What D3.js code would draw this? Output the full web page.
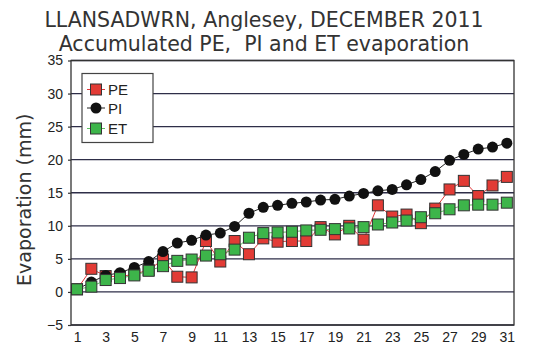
<!DOCTYPE html>
<html><head><meta charset="utf-8">
<script src="https://cdn.jsdelivr.net/npm/d3@7"></script>
<style>
html,body{margin:0;padding:0;background:#fff;}
svg{display:block;}
text.title{white-space:pre;}
</style></head>
<body>
<svg id="chart" width="536" height="356"></svg>
<script>
const titleLines = ["LLANSADWRN, Anglesey, DECEMBER 2011", "Accumulated PE,  PI and ET evaporation"];
const yLabel = "Evaporation (mm)";
const days = d3.range(1, 32);
const xTickLabels = [1,3,5,7,9,11,13,15,17,19,21,23,25,27,29,31];
const yTickValues = [-5,0,5,10,15,20,25,30,35];
const PE = [0.4,3.5,2.4,2.3,2.7,3.3,4.9,2.3,2.2,7.7,4.6,7.7,5.7,8.1,7.6,7.7,7.7,9.8,8.7,10.0,7.9,13.1,11.4,11.7,10.4,12.6,15.5,16.8,14.5,16.1,17.4];
const PI = [0.4,1.5,2.5,2.9,3.7,4.6,6.1,7.4,7.8,8.6,8.9,9.9,11.9,12.8,13.1,13.4,13.6,13.9,14.0,14.5,14.9,15.3,15.5,16.2,17.0,18.2,19.9,20.8,21.6,21.9,22.5];
const ET = [0.4,0.8,1.8,2.1,2.5,3.2,3.9,4.7,4.9,5.5,5.7,6.4,8.2,8.9,9.0,9.1,9.3,9.4,9.5,9.6,9.8,10.2,10.5,10.8,11.3,11.9,12.5,13.1,13.2,13.2,13.5];
const seriesNames = ["PE","PI","ET"];

const W = 536, H = 356;
const m = {left:71, right:22, top:60.5, bottom:31};
const svg = d3.select("#chart");

const x = d3.scaleLinear().domain([0.58, 31.5]).range([m.left, W - m.right]);
const y = d3.scaleLinear().domain([-5, 35]).range([H - m.bottom, m.top]);

// titles
svg.selectAll("text.title").data(titleLines).join("text")
  .attr("class","title")
  .attr("xml:space","preserve")
  .attr("x", 264).attr("y", (d,i) => 27 + i*24)
  .attr("text-anchor","middle")
  .attr("font-family","DejaVu Sans, Verdana, sans-serif")
  .attr("font-size", 20.5)
  .attr("fill","#333")
  .text(d => d);

// gridlines
svg.append("g").selectAll("line").data(yTickValues).join("line")
  .attr("x1", m.left).attr("x2", W - m.right)
  .attr("y1", d => y(d)).attr("y2", d => y(d))
  .attr("stroke", "#2e2e48").attr("stroke-width", 1.3);

// plot border
svg.append("rect")
  .attr("x", m.left).attr("y", m.top)
  .attr("width", W - m.left - m.right).attr("height", H - m.top - m.bottom)
  .attr("fill","none").attr("stroke","#333").attr("stroke-width",1.3);

// y axis ticks
const yAxis = d3.axisLeft(y).tickValues(yTickValues).tickSize(3).tickPadding(5);
const gy = svg.append("g").attr("transform", `translate(${m.left},0)`).call(yAxis);
gy.select(".domain").remove();
gy.selectAll(".tick line").attr("stroke","#333").attr("stroke-width",1.2);
gy.selectAll("text").attr("font-family","Liberation Sans, Arial, sans-serif").attr("font-size",14).attr("fill","#222");

// x axis ticks
const xAxis = d3.axisBottom(x).tickValues(xTickLabels).tickSize(0).tickPadding(7).tickFormat(d3.format("d"));
const gx = svg.append("g").attr("transform", `translate(0,${H - m.bottom})`).call(xAxis);
gx.select(".domain").remove();
gx.selectAll("text").attr("font-family","Liberation Sans, Arial, sans-serif").attr("font-size",14).attr("fill","#222");

// y label
svg.append("text")
  .attr("transform", `translate(31,${(m.top + H - m.bottom)/2 + 7}) rotate(-90)`)
  .attr("text-anchor","middle")
  .attr("font-family","DejaVu Sans, Verdana, sans-serif")
  .attr("font-size",19).attr("fill","#333")
  .text(yLabel);

const line = d3.line().x((d,i) => x(days[i])).y(d => y(d));
const sq = 11;

function drawSquares(data, color, lineColor){
  svg.append("path").datum(data).attr("d", line)
    .attr("fill","none").attr("stroke", lineColor).attr("stroke-width",1);
  svg.append("g").selectAll("rect").data(data).join("rect")
    .attr("x", (d,i) => x(days[i]) - sq/2).attr("y", d => y(d) - sq/2)
    .attr("width", sq).attr("height", sq)
    .attr("fill", color).attr("stroke","#333").attr("stroke-width",1);
}
// PE
drawSquares(PE, "#e23b35", "#e0373a");
// PI
svg.append("path").datum(PI).attr("d", line)
  .attr("fill","none").attr("stroke","#222").attr("stroke-width",1);
svg.append("g").selectAll("circle").data(PI).join("circle")
  .attr("cx", (d,i) => x(days[i])).attr("cy", d => y(d)).attr("r", 5.5)
  .attr("fill","#111");
// ET
drawSquares(ET, "#3db54a", "#5cc060");

// legend
const lg = svg.append("g");
lg.append("rect").attr("x",82).attr("y",73.5).attr("width",71).attr("height",69)
  .attr("fill","#fff").attr("stroke","#444").attr("stroke-width",1.2);
const legY = [89.5, 108, 128.5];
const legColors = ["#e23b35", "#111", "#3db54a"];
const legLine = ["#e0373a", "#222", "#5cc060"];
seriesNames.forEach((n,i) => {
  lg.append("line").attr("x1",87).attr("x2",105).attr("y1",legY[i]).attr("y2",legY[i])
    .attr("stroke",legLine[i]).attr("stroke-width",1);
  if (n === "PI") {
    lg.append("circle").attr("cx",96).attr("cy",legY[i]).attr("r",5.5).attr("fill","#111");
  } else {
    lg.append("rect").attr("x",90.5).attr("y",legY[i]-5.5).attr("width",11).attr("height",11)
      .attr("fill",legColors[i]).attr("stroke","#333").attr("stroke-width",1);
  }
  lg.append("text").attr("x",108).attr("y",legY[i]+5.5)
    .attr("font-family","Liberation Sans, Arial, sans-serif").attr("font-size",15).attr("fill","#222")
    .text(n);
});
</script>
</body></html>
